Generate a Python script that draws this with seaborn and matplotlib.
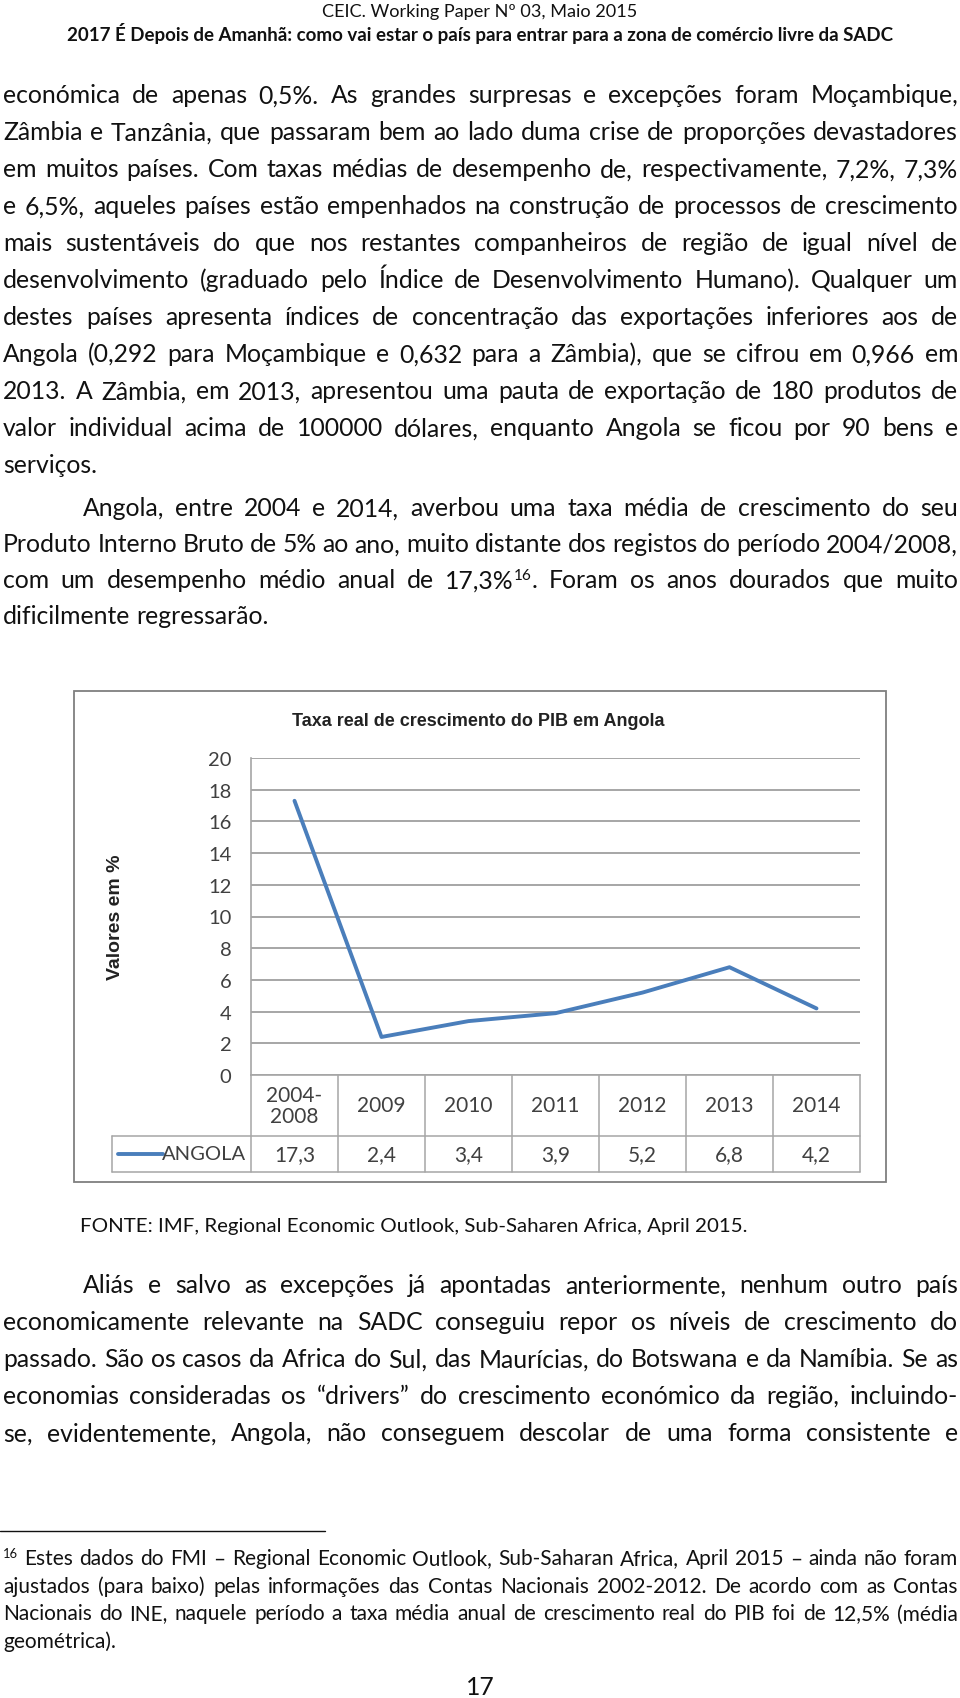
import matplotlib
matplotlib.use("Agg")

import pandas as pd
import matplotlib.pyplot as plt
import matplotlib.transforms as mtransforms
from matplotlib.patches import Rectangle
from matplotlib.lines import Line2D
import seaborn as sns

# -------------------------------------------------
# Data
# -------------------------------------------------
periodos = ["2004-\n2008", "2009", "2010", "2011", "2012", "2013", "2014"]
taxa_pib = [17.3, 2.4, 3.4, 3.9, 5.2, 6.8, 4.2]
rotulos_taxa = ["17,3", "2,4", "3,4", "3,9", "5,2", "6,8", "4,2"]
serie = "ANGOLA"
y_ticks = list(range(0, 21, 2))

titulo = "Taxa real de crescimento do PIB em Angola"
eixo_y = "Valores em %"

cabecalho_1 = "CEIC. Working Paper Nº 03, Maio 2015"
cabecalho_2 = "2017 É Depois de Amanhã: como vai estar o país para entrar para a zona de comércio livre da SADC"

paragrafo_1 = [
    "económica de apenas 0,5%. As grandes surpresas e excepções foram Moçambique,",
    "Zâmbia e Tanzânia, que passaram bem ao lado duma crise de proporções devastadores",
    "em muitos países. Com taxas médias de desempenho de, respectivamente, 7,2%, 7,3%",
    "e 6,5%, aqueles países estão empenhados na construção de processos de crescimento",
    "mais sustentáveis do que nos restantes companheiros de região de igual nível de",
    "desenvolvimento (graduado pelo Índice de Desenvolvimento Humano). Qualquer um",
    "destes países apresenta índices de concentração das exportações inferiores aos de",
    "Angola (0,292 para Moçambique e 0,632 para a Zâmbia), que se cifrou em 0,966 em",
    "2013. A Zâmbia, em 2013, apresentou uma pauta de exportação de 180 produtos de",
    "valor individual acima de 100000 dólares, enquanto Angola se ficou por 90 bens e",
    "serviços.",
]
paragrafo_2 = [
    "Angola, entre 2004 e 2014, averbou uma taxa média de crescimento do seu",
    "Produto Interno Bruto de 5% ao ano, muito distante dos registos do período 2004/2008,",
    "com um desempenho médio anual de 17,3%^16^. Foram os anos dourados que muito",
    "dificilmente regressarão.",
]
fonte = "FONTE: IMF, Regional Economic Outlook, Sub-Saharen Africa, April 2015."
paragrafo_3 = [
    "Aliás e salvo as excepções já apontadas anteriormente, nenhum outro país",
    "economicamente relevante na SADC conseguiu repor os níveis de crescimento do",
    "passado. São os casos da Africa do Sul, das Maurícias, do Botswana e da Namíbia. Se as",
    "economias consideradas os “drivers” do crescimento económico da região, incluindo-",
    "se, evidentemente, Angola, não conseguem descolar de uma forma consistente e",
]
nota = [
    "^16^ Estes dados do FMI – Regional Economic Outlook, Sub-Saharan Africa, April 2015 – ainda não foram",
    "ajustados (para baixo) pelas informações das Contas Nacionais 2002-2012. De acordo com as Contas",
    "Nacionais do INE, naquele período a taxa média anual de crescimento real do PIB foi de 12,5% (média",
    "geométrica).",
]
pagina = "17"

# -------------------------------------------------
# Page setup
# -------------------------------------------------
W, H = 960, 1699
sns.set_theme(style="white")
plt.rcParams["font.family"] = ["Lato", "DejaVu Sans"]

INK = "#111111"
GREY_TXT = "#404040"
GRID = "#a6a6a6"
BLUE = "#4a7ebb"

fig = plt.figure(figsize=(W / 100, H / 100), dpi=100)
fig.patch.set_facecolor("white")
renderer = fig.canvas.get_renderer()

# pixel coords, y measured from the top of the page
PX = mtransforms.Affine2D().scale(1 / W, -1 / H).translate(0, 1) + fig.transFigure


def em_px(size):
    return size * 100 / 72


def text_width(s, size, weight="normal", family=None):
    t = fig.text(0, 0, s, fontsize=size, fontweight=weight, family=family)
    w = t.get_window_extent(renderer).width
    t.remove()
    return w


def fit_size(s, target, weight="normal", family=None):
    return 10 * target / text_width(s, 10, weight, family)


def text_line(line, y_mid, x0, x1, size, justify, weight="normal"):
    words = []
    for word in line.split():
        pieces = []
        for i, part in enumerate(word.split("^")):
            if not part:
                continue
            sup = i % 2 == 1
            t = fig.text(0, 0, part, transform=PX, fontsize=size * (0.62 if sup else 1),
                         fontweight=weight, color=INK, ha="left", va="baseline")
            pieces.append([t, sup, t.get_window_extent(renderer).width])
        words.append(pieces)
    widths = [sum(p[2] for p in w) for w in words]
    space = text_width("n n", size, weight) - text_width("nn", size, weight)
    total = sum(widths)
    n = len(words)
    scale = 1.0
    if justify and n > 1:
        need = total + (n - 1) * 0.45 * space
        if need > x1 - x0:
            scale = (x1 - x0) / need
        gap = ((x1 - x0) - total * scale) / (n - 1)
    else:
        gap = space
    em = em_px(size * scale)
    base = y_mid + 0.26 * em
    x = x0
    for w in words:
        for t, sup, wd in w:
            t.set_fontsize(t.get_fontsize() * scale)
            t.set_position((x, base - (0.36 * em if sup else 0)))
            x += wd * scale
        x += gap


def paragraph(lines, y0, step, size, indent=80, x0=3, x1=958, justify_last=False):
    for k, line in enumerate(lines):
        last = k == len(lines) - 1
        left = x0 + (indent if k == 0 else 0)
        text_line(line, y0 + k * step, left, x1, size, justify=justify_last or not last)


# -------------------------------------------------
# Header and body text
# -------------------------------------------------
s1 = fit_size(cabecalho_1, 316)
fig.text(480, 12 + 0.3 * em_px(s1), cabecalho_1, transform=PX, fontsize=s1,
         color=INK, ha="center", va="baseline")
s2 = fit_size(cabecalho_2, 830, weight="bold")
fig.text(480, 35 + 0.3 * em_px(s2), cabecalho_2, transform=PX, fontsize=s2,
         fontweight="bold", color=INK, ha="center", va="baseline")

body = fit_size("dificilmente regressarão.", 266)
paragraph(paragrafo_1, 97, 37, body, indent=0)
paragraph(paragrafo_2, 510, 36, body)

sf = fit_size(fonte, 666)
fig.text(80, 1227 + 0.26 * em_px(sf), fonte, transform=PX, fontsize=sf,
         color=INK, ha="left", va="baseline")

# last line of paragraph 3 is still justified (text continues on next page)
paragraph(paragrafo_3, 1287, 37, body, justify_last=True)

fig.add_artist(Line2D([0, 325], [1532, 1532], transform=PX, color=INK, lw=1.0))
small = fit_size("geométrica).", 113)
paragraph(nota, 1560, 27.5, small, indent=0)

fig.text(480, 1688 + 0.3 * em_px(body), pagina, transform=PX, fontsize=body,
         color=INK, ha="center", va="baseline")

# -------------------------------------------------
# Chart
# -------------------------------------------------
fig.add_artist(Rectangle((74, 692), 812, 491, transform=PX, fill=False,
                         ec="#7f7f7f", lw=1.3))

ax = fig.add_axes([251 / W, 1 - 1076 / H, (860 - 251) / W, (1076 - 759) / H])
df = pd.DataFrame({"periodo": periodos, "taxa": taxa_pib})
sns.lineplot(data=df, x="periodo", y="taxa", ax=ax, color=BLUE, lw=2.8, sort=False)

ax.set_facecolor("white")
ax.set_xlim(-0.5, len(periodos) - 0.5)
ax.set_ylim(0, 20)
ax.set_yticks(y_ticks)
ax.set_xticks([])
ax.set_xlabel("")
ax.yaxis.grid(True, color=GRID, lw=1.4)
ax.set_axisbelow(True)
for side in ["top", "right"]:
    ax.spines[side].set_visible(False)
for side in ["left", "bottom"]:
    ax.spines[side].set_color(GRID)
    ax.spines[side].set_linewidth(1.2)
ax.tick_params(axis="y", length=0, pad=14, labelsize=14.5, labelcolor=GREY_TXT)

ax.set_ylabel(eixo_y, fontsize=14, fontweight="bold", color="#222222",
              family=["Liberation Sans", "DejaVu Sans"])
ax.yaxis.label.set_va("center")
ax.yaxis.set_label_coords((116 - 251) / (860 - 251), 0.5)

st = fit_size(titulo, 371, weight="bold", family=["Liberation Sans Narrow", "Liberation Sans"])
fig.text(478, 722, titulo, transform=PX, fontsize=st, fontweight="bold", color="#222222",
         family=["Liberation Sans Narrow", "Liberation Sans"], ha="center", va="center")

# data table under the plot
trans = mtransforms.blended_transform_factory(ax.transData, ax.transAxes)
ax_h = 1076 - 759
head_bot = -(1137 - 1076) / ax_h
data_bot = -(1173 - 1076) / ax_h
leg_left = -0.5 - (251 - 112) / 87
n = len(periodos)

for yv in [head_bot, data_bot]:
    ax.add_line(Line2D([leg_left, n - 0.5], [yv, yv], transform=trans,
                       color=GRID, lw=1.1, clip_on=False))
for k in range(n + 1):
    ax.add_line(Line2D([k - 0.5, k - 0.5], [0, data_bot], transform=trans,
                       color=GRID, lw=1.1, clip_on=False))
ax.add_line(Line2D([leg_left, leg_left], [head_bot, data_bot], transform=trans,
                   color=GRID, lw=1.1, clip_on=False))

head_mid = head_bot / 2
data_mid = (head_bot + data_bot) / 2
for i, (p, r) in enumerate(zip(periodos, rotulos_taxa)):
    ax.text(i, head_mid, p, transform=trans, ha="center", va="center",
            fontsize=15, color=GREY_TXT, linespacing=1.1, clip_on=False)
    ax.text(i, data_mid, r, transform=trans, ha="center", va="center",
            fontsize=15, color=GREY_TXT, clip_on=False)

ax.add_line(Line2D([leg_left + 6 / 87, leg_left + 51 / 87], [data_mid, data_mid],
                   transform=trans, color=BLUE, lw=2.8, clip_on=False))
ax.text(-0.5 - 5 / 87, data_mid, serie, transform=trans, ha="right", va="center",
        fontsize=14.5, color=GREY_TXT, clip_on=False)

fig.savefig("out.png", dpi=100)
